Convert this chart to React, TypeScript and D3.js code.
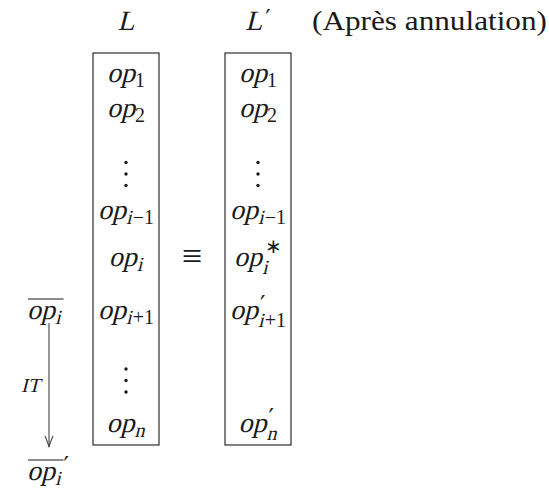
import * as d3 from "d3";

type Row = { sub?: string; sup?: string } | "vdots" | null;

// column headers and note
const columns = ["L", "L′"];
const note = "(Après annulation)";

// contents of the two lists (base symbol is always "op")
const rowsL: Row[] = [
  { sub: "1" },
  { sub: "2" },
  "vdots",
  { sub: "i−1" },
  { sub: "i" },
  { sub: "i+1" },
  "vdots",
  { sub: "n" },
];
const rowsLPrime: Row[] = [
  { sub: "1" },
  { sub: "2" },
  "vdots",
  { sub: "i−1" },
  { sub: "i", sup: "∗" },
  { sub: "i+1", sup: "′" },
  null,
  { sub: "n", sup: "′" },
];
// vertical slot of each row (in baselineskips)
const rowSlots = [0, 1, 2.9, 3.9, 5.25, 6.77, 8.8, 10];
const equivRow = 4;
const transformRow = 5;
const arrowLabel = "IT";

const W = 549;
const H = 489;
const FONT = "Liberation Serif";
const PRIME_FONT = "DejaVu Sans";
const FS = 28;
const SS = 20;
const PRIME = 24;
const SLANT = -14;
const INK = "#1a1a1a";

const x = d3.scaleBand<string>().domain(columns).range([93, 291]).paddingInner(0.5);
const y = d3.scaleLinear().domain([0, 1]).range([82, 117]);
const BOX_TOP = 53;
const BOX_BOTTOM = 445;
const TITLE_Y = 30;
const LEFT_X = 27;
const ARROW_X = 49;

// the serif family has no italic face here, so italics are slanted upright glyphs;
// widths come from a canvas so the pieces can be laid out by hand
const ctx = document.createElement("canvas").getContext("2d")!;
function tw(s: string, size: number, font = FONT) {
  ctx.font = `${size}px "${font}"`;
  return ctx.measureText(s).width;
}

type Piece = { s: string; size: number; it: boolean; x: number; y: number; font?: string };

// letters italic, digits / operators upright
function runs(s: string, size: number, x0: number, y0: number) {
  const out: Piece[] = [];
  let cx = x0;
  (s.match(/[a-zA-Z]+|[^a-zA-Z]+/g) ?? []).forEach((r) => {
    const it = /[a-zA-Z]/.test(r);
    out.push({ s: r, size, it, x: cx, y: y0 });
    cx += tw(r, size) + (it ? 1 : 0);
  });
  return { pieces: out, end: cx };
}

function primePiece(x0: number, y0: number): Piece {
  return { s: "′", size: PRIME, it: false, x: x0, y: y0, font: PRIME_FONT };
}

function opLayout(row: { sub?: string; sup?: string }) {
  const pieces: Piece[] = [{ s: "op", size: FS, it: true, x: 0, y: 0 }];
  const wb = tw("op", FS);
  let w = wb;
  if (row.sup) {
    const sx = wb + 3;
    const p = row.sup === "∗" ? { s: row.sup, size: SS, it: false, x: sx, y: -13 } : primePiece(sx - 1, -6);
    pieces.push(p);
    w = Math.max(w, sx + tw(p.s, p.size, p.font));
  }
  if (row.sub) {
    const r = runs(row.sub, SS, wb, row.sup ? 8 : 5);
    pieces.push(...r.pieces);
    w = Math.max(w, r.end);
  }
  return { pieces, width: w };
}

function Pieces({ pieces, dx, dy }: { pieces: Piece[]; dx: number; dy: number }) {
  return (
    <g fill={INK}>
      {pieces.map((p, i) =>
        p.it ? (
          <text key={i} transform={`translate(${dx + p.x},${dy + p.y}) skewX(${SLANT})`} style={{ fontFamily: p.font ?? FONT, fontSize: p.size }}>
            {p.s}
          </text>
        ) : (
          <text key={i} x={dx + p.x} y={dy + p.y} style={{ fontFamily: p.font ?? FONT, fontSize: p.size }}>
            {p.s}
          </text>
        )
      )}
    </g>
  );
}

function Vdots({ cx, base }: { cx: number; base: number }) {
  return (
    <g fill={INK}>
      {[0, 1, 2].map((k) => (
        <circle key={k} cx={cx} cy={base + 2 - k * 11.5} r={1.7} />
      ))}
    </g>
  );
}

function Column({ name, rows }: { name: string; rows: Row[] }) {
  const x0 = x(name)!;
  const cx = x0 + x.bandwidth() / 2;
  const letter = name[0];
  const primed = name.length > 1;
  const lw = tw(letter, FS);
  const titleW = lw + (primed ? tw("′", PRIME, PRIME_FONT) + 3 : 0);
  const tx = cx - titleW / 2;
  return (
    <g>
      <Pieces
        dx={tx}
        dy={TITLE_Y}
        pieces={[{ s: letter, size: FS, it: true, x: 0, y: 0 }, ...(primed ? [primePiece(lw + 3, -3)] : [])]}
      />
      <rect x={x0} y={BOX_TOP} width={x.bandwidth()} height={BOX_BOTTOM - BOX_TOP} fill="none" stroke={INK} strokeWidth={1.1} />
      {rows.map((r, i) => {
        if (r === "vdots") return <Vdots key={i} cx={cx} base={y(rowSlots[i])} />;
        if (!r) return null;
        const l = opLayout(r);
        return <Pieces key={i} pieces={l.pieces} dx={cx - l.width / 2} dy={y(rowSlots[i])} />;
      })}
    </g>
  );
}

function Overlined({ x0, base, prime }: { x0: number; base: number; prime?: boolean }) {
  const l = opLayout({ sub: "i" });
  return (
    <g>
      <Pieces pieces={l.pieces} dx={x0} dy={base} />
      <line x1={x0 + 1} x2={x0 + l.width + 2} y1={base - 20} y2={base - 20} stroke={INK} strokeWidth={1.1} />
      {prime && <Pieces pieces={[primePiece(l.width + 2, -6)]} dx={x0} dy={base} />}
    </g>
  );
}

export default function App() {
  const rowY = y(rowSlots[transformRow]);
  const a0 = rowY + 4;
  const a1 = BOX_BOTTOM + 2;
  const itW = tw(arrowLabel, SS);
  return (
    <svg width={W} height={H} style={{ position: "absolute", left: 0, top: 0, background: "#fff" }}>
      {columns.map((c, i) => (
        <Column key={c} name={c} rows={i === 0 ? rowsL : rowsLPrime} />
      ))}
      <text x={312} y={TITLE_Y} fill={INK} textLength={235} lengthAdjust="spacingAndGlyphs" style={{ fontFamily: FONT, fontSize: FS }}>
        {note}
      </text>
      <text
        x={(x(columns[0])! + x.bandwidth() + x(columns[1])!) / 2}
        y={y(rowSlots[equivRow]) + 2}
        textAnchor="middle"
        fill={INK}
        style={{ fontFamily: FONT, fontSize: 36 }}
      >
        ≡
      </text>
      <Overlined x0={LEFT_X} base={rowY} />
      <line x1={ARROW_X} x2={ARROW_X} y1={a0} y2={a1} stroke="#444" strokeWidth={1.1} />
      <path
        d={`M${ARROW_X - 4},${a1 - 11} Q${ARROW_X - 1},${a1 - 4} ${ARROW_X},${a1} Q${ARROW_X + 1},${a1 - 4} ${ARROW_X + 4},${a1 - 11}`}
        fill="none"
        stroke="#444"
        strokeWidth={1.1}
      />
      <Pieces pieces={[{ s: arrowLabel, size: SS, it: true, x: 0, y: 0 }]} dx={ARROW_X - 9 - itW} dy={(a0 + a1) / 2 + 7} />
      <Overlined x0={LEFT_X} base={480} prime />
    </svg>
  );
}
